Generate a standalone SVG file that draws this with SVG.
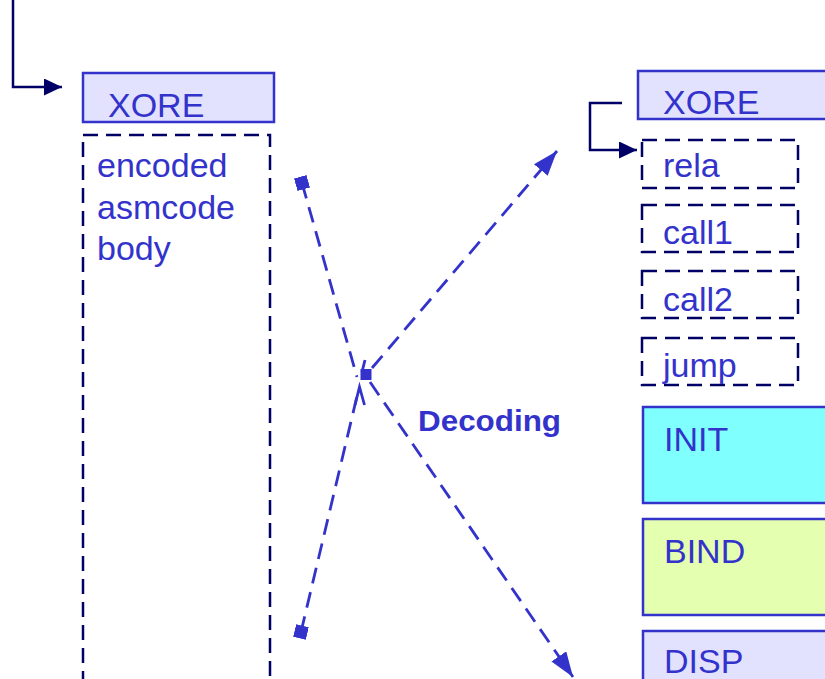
<svg xmlns="http://www.w3.org/2000/svg" width="825" height="679" viewBox="0 0 825 679">
  <style>
    .lbl { font-family: "Liberation Sans", Arial, sans-serif; font-size: 34px; fill: #3333cc; }
    .bold { font-family: "Liberation Sans", Arial, sans-serif; font-size: 30px; font-weight: bold; fill: #3333cc; }
    .hdr { fill: #e2e2ff; stroke: #3333cc; stroke-width: 2.5; }
    .slot { fill: none; stroke: #000066; stroke-width: 2.5; stroke-dasharray: 15 8; }
    .nav { fill: none; stroke: #000066; stroke-width: 2.5; }
    .flow { fill: none; stroke: #3333cc; stroke-width: 2.8; stroke-dasharray: 16 9; }
    .tick { fill: none; stroke: #3333cc; stroke-width: 2.8; }
  </style>
  <defs>
    <marker id="navyHead" viewBox="0 0 18 17" refX="18" refY="8.5" markerWidth="18" markerHeight="17" markerUnits="userSpaceOnUse" orient="auto">
      <path d="M0,0 L18,8.5 L0,17 z" fill="#000066"/>
    </marker>
    <marker id="blueHead" viewBox="0 0 25 18" refX="25" refY="9" markerWidth="25" markerHeight="18" markerUnits="userSpaceOnUse" orient="auto">
      <path d="M0,0 L25,9 L0,18 z" fill="#3333cc"/>
    </marker>
    <marker id="diamond" viewBox="0 0 13 13" refX="6.5" refY="6.5" markerWidth="13" markerHeight="13" markerUnits="userSpaceOnUse" orient="auto">
      <rect x="0" y="0" width="13" height="13" fill="#3333cc"/>
    </marker>
  </defs>

  <!-- connectors -->
  <g id="connectors">
    <path class="nav" d="M13,0 V87 H62" marker-end="url(#navyHead)"/>
    <path class="nav" d="M622,103 H590 V150 H637" marker-end="url(#navyHead)"/>
    <path class="flow" d="M302,183 L357,377" marker-start="url(#diamond)"/>
    <path class="tick" d="M365,360 L362,372"/>
    <path class="flow" d="M301,632 L358,392" marker-start="url(#diamond)"/>
    <path class="tick" d="M355,405 L359.5,387 L364.5,405"/>
    <rect x="360.5" y="369" width="11" height="11" fill="#3333cc"/>
    <path class="flow" d="M372,368 L557,151" marker-end="url(#blueHead)"/>
    <path class="flow" d="M370,382 L573,677" marker-end="url(#blueHead)"/>
    <text class="bold" x="418" y="431" textLength="143" lengthAdjust="spacingAndGlyphs">Decoding</text>
  </g>

  <!-- left column -->
  <g id="xore-left">
    <rect class="hdr" x="83" y="73" width="191" height="49"/>
    <text class="lbl" x="108" y="117">XORE</text>
  </g>
  <g id="encoded-body">
    <rect class="slot" x="83" y="135" width="187" height="560"/>
    <text class="lbl" x="97" y="177">encoded</text>
    <text class="lbl" x="97" y="219">asmcode</text>
    <text class="lbl" x="97" y="260">body</text>
  </g>

  <!-- right column -->
  <g id="xore-right">
    <rect class="hdr" x="638" y="71" width="200" height="48"/>
    <text class="lbl" x="663" y="114">XORE</text>
  </g>
  <g id="rela">
    <rect class="slot" x="642" y="140" width="156" height="48"/>
    <text class="lbl" x="663" y="177">rela</text>
  </g>
  <g id="call1">
    <rect class="slot" x="642" y="205" width="156" height="47"/>
    <text class="lbl" x="663" y="244">call1</text>
  </g>
  <g id="call2">
    <rect class="slot" x="642" y="271" width="156" height="47"/>
    <text class="lbl" x="663" y="311">call2</text>
  </g>
  <g id="jump">
    <rect class="slot" x="642" y="338" width="156" height="47"/>
    <text class="lbl" x="663" y="377">jump</text>
  </g>
  <g id="init">
    <rect x="643" y="407" width="200" height="96" fill="#80ffff" stroke="#3333cc" stroke-width="2.5"/>
    <text class="lbl" x="664" y="451">INIT</text>
  </g>
  <g id="bind">
    <rect x="643" y="519" width="200" height="96" fill="#e4ffb0" stroke="#3333cc" stroke-width="2.5"/>
    <text class="lbl" x="664" y="563">BIND</text>
  </g>
  <g id="disp">
    <rect x="643" y="631" width="200" height="80" fill="#e2e2ff" stroke="#3333cc" stroke-width="2.5"/>
    <text class="lbl" x="664" y="673">DISP</text>
  </g>
</svg>
